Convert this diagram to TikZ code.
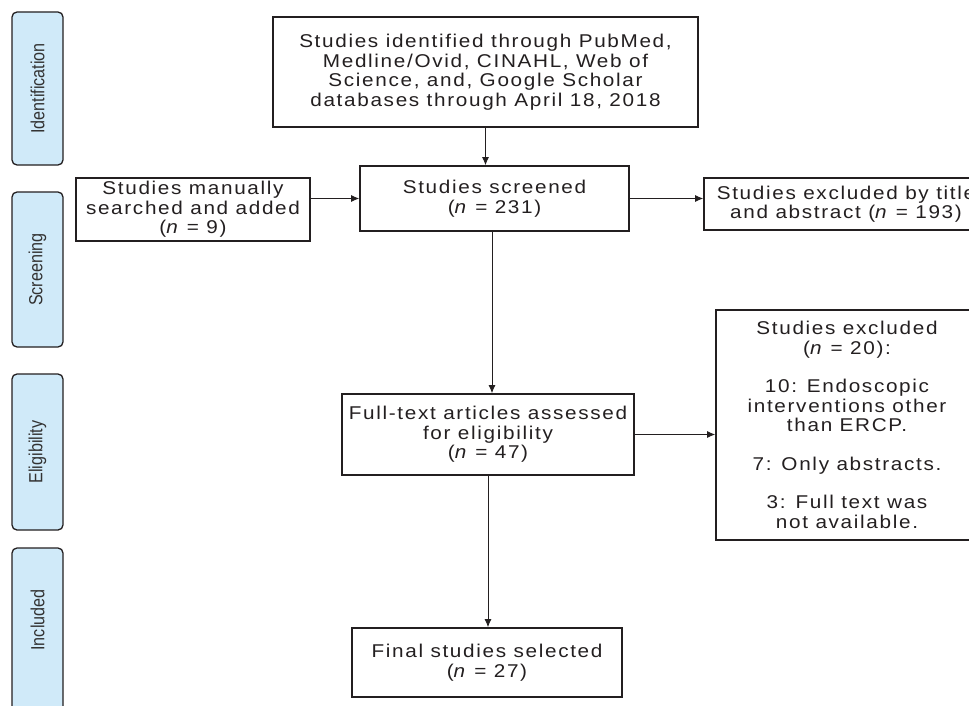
\documentclass[tikz,border=0pt]{standalone}
\usepackage{fontspec}
\setmainfont{Liberation Sans}
\newfontfamily\boxfont[FakeStretch=1.12,LetterSpace=9]{Liberation Sans}
\newfontfamily\tabfont[FakeStretch=0.85]{Liberation Sans}
\usetikzlibrary{arrows.meta}
\definecolor{linec}{HTML}{231F20}
\definecolor{tabblue}{HTML}{D0EAF9}
\definecolor{tabtextc}{HTML}{333333}
\begin{document}
\begin{tikzpicture}[x=1pt,y=-1pt,
  box/.style={draw=linec, line width=1.6pt, inner sep=0pt, align=center, text=linec,
    font=\boxfont\fontsize{18.5}{19.5}\selectfont},
  tabbox/.style={draw=linec, fill=tabblue, line width=1.3pt, rounded corners=5pt,
    minimum width=51pt, inner sep=0pt},
  tabtext/.style={rotate=90, text=tabtextc, font=\tabfont\fontsize{19}{22}\selectfont, inner sep=0pt},
  arr/.style={draw=linec, line width=0.9pt, -{Latex[length=8pt,width=7pt]}}]
\useasboundingbox (0,0) rectangle (969,706);
\clip (0,0) rectangle (969,706);

% phase tabs
\node[tabbox, minimum height=153pt] (tid) at (37.5,88.5) {};
\node[tabtext] (lid) at (tid) {Identification};
\node[tabbox, minimum height=155pt] (tsc) at (37.5,269.5) {};
\node[tabtext] (lsc) at (tsc) {Screening};
\node[tabbox, minimum height=156pt] (tel) at (37.5,452) {};
\node[tabtext] (lel) at (tel) {Eligibility};
\node[tabbox, minimum height=164pt] (tin) at (37.5,630) {};
\node[tabtext] (lin) at (37.5,620) {Included};

% boxes
\node[box, minimum width=425pt, minimum height=110pt] (top) at (485.5,72)
  {Studies identified through PubMed,\\Medline/Ovid, CINAHL, Web of\\Science, and, Google Scholar\\databases through April 18, 2018};
\node[box, minimum width=234pt, minimum height=63pt] (manual) at (193,209.5)
  {Studies manually\\searched and added\\(\textit{n} = 9)};
\node[box, minimum width=269pt, minimum height=65pt] (screened) at (494.5,198.5)
  {Studies screened\\(\textit{n} = 231)};
\node[box, minimum width=284pt, minimum height=52pt] (excl1) at (846,204)
  {Studies excluded by title\\and abstract (\textit{n} = 193)};
\node[box, minimum width=292pt, minimum height=81pt] (full) at (488,434.5)
  {Full-text articles assessed\\for eligibility\\(\textit{n} = 47)};
\node[box, minimum width=262pt, minimum height=230pt] (excl2) at (847,425)
  {Studies excluded\\(\textit{n} = 20):\\[19pt]10: Endoscopic\\interventions other\\than ERCP.\\[19pt]7: Only abstracts.\\[19pt]3: Full text was\\not available.};
\node[box, minimum width=270pt, minimum height=69pt] (final) at (487,662.5)
  {Final studies selected\\(\textit{n} = 27)};

% connectors
\draw[arr] (top.south) -- (top.south |- screened.north);
\draw[arr] (manual.east |- screened.west) -- (screened.west);
\draw[arr] (screened.east) -- (screened.east -| excl1.west);
\draw[arr] ([xshift=-2.5pt]screened.south) -- ([xshift=-2.5pt]screened.south |- full.north);
\draw[arr] (full.east) -- (full.east -| excl2.west);
\draw[arr] (full.south) -- (full.south |- final.north);
\end{tikzpicture}
\end{document}
